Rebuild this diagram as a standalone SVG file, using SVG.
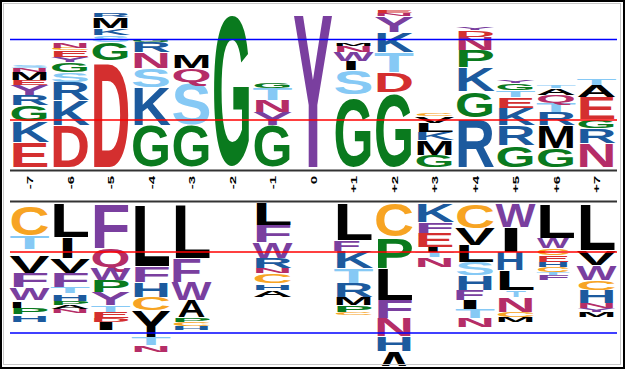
<svg xmlns="http://www.w3.org/2000/svg" width="627" height="371" viewBox="0 0 627 371">
<style>
.l{font-family:"Liberation Sans",Arial,sans-serif;font-weight:700;font-size:100px}
.r{fill:#d42f2f}.b{fill:#1c5a9e}.g{fill:#0a7a1e}.s{fill:#86c9f5}.p{fill:#7a3f9f}.m{fill:#b52d67}.k{fill:#000}.o{fill:#f7a423}
.ax{font-family:"Liberation Sans",Arial,sans-serif;font-size:15px;font-weight:700;fill:#000}
</style>
<defs><clipPath id="cl"><rect x="0" y="0" width="627" height="366"/></clipPath></defs>
<rect width="627" height="371" fill="#fff"/>
<g id="upper">
<g id="u-7">
<text class="l r" transform="translate(9.5,167) scale(1,.349)" textLength="40" lengthAdjust="spacingAndGlyphs">E</text>
<text class="l b" transform="translate(9.5,142) scale(1,.293)" textLength="40" lengthAdjust="spacingAndGlyphs">K</text>
<text class="l g" transform="translate(9.5,120.74) scale(1,.216)" textLength="40" lengthAdjust="spacingAndGlyphs">G</text>
<text class="l b" transform="translate(9.5,105) scale(1,.140)" textLength="40" lengthAdjust="spacingAndGlyphs">R</text>
<text class="l p" transform="translate(9.5,95) scale(1,.140)" textLength="40" lengthAdjust="spacingAndGlyphs">Y</text>
<text class="l r" transform="translate(9.5,85) scale(1,.070)" textLength="40" lengthAdjust="spacingAndGlyphs">E</text>
<text class="l k" transform="translate(9.5,80) scale(1,.112)" textLength="40" lengthAdjust="spacingAndGlyphs">M</text>
<text class="l m" transform="translate(9.5,72) scale(1,.056)" textLength="40" lengthAdjust="spacingAndGlyphs">N</text>
<text class="l s" transform="translate(9.5,67.95) scale(1,.041)" textLength="40" lengthAdjust="spacingAndGlyphs">S</text>
</g>
<g id="u-6">
<text class="l r" transform="translate(50,167) scale(1,.587)" textLength="40" lengthAdjust="spacingAndGlyphs">D</text>
<text class="l b" transform="translate(50,125) scale(1,.349)" textLength="40" lengthAdjust="spacingAndGlyphs">K</text>
<text class="l b" transform="translate(50,100) scale(1,.251)" textLength="40" lengthAdjust="spacingAndGlyphs">R</text>
<text class="l s" transform="translate(50,81.84) scale(1,.135)" textLength="40" lengthAdjust="spacingAndGlyphs">S</text>
<text class="l g" transform="translate(50,71.84) scale(1,.135)" textLength="40" lengthAdjust="spacingAndGlyphs">G</text>
<text class="l p" transform="translate(50,62) scale(1,.070)" textLength="40" lengthAdjust="spacingAndGlyphs">Y</text>
<text class="l r" transform="translate(50,57) scale(1,.098)" textLength="40" lengthAdjust="spacingAndGlyphs">E</text>
<text class="l o" transform="translate(50,49.97) scale(1,.027)" textLength="40" lengthAdjust="spacingAndGlyphs">C</text>
<text class="l m" transform="translate(50,48) scale(1,.070)" textLength="40" lengthAdjust="spacingAndGlyphs">N</text>
</g>
<g id="u-5">
<text class="l r" transform="translate(90.5,167) scale(1,1.494)" textLength="40" lengthAdjust="spacingAndGlyphs">D</text>
<text class="l g" transform="translate(90.5,59.71) scale(1,.243)" textLength="40" lengthAdjust="spacingAndGlyphs">G</text>
<text class="l s" transform="translate(90.5,41.89) scale(1,.095)" textLength="40" lengthAdjust="spacingAndGlyphs">S</text>
<text class="l b" transform="translate(90.5,35) scale(1,.098)" textLength="40" lengthAdjust="spacingAndGlyphs">K</text>
<text class="l k" transform="translate(90.5,28) scale(1,.154)" textLength="40" lengthAdjust="spacingAndGlyphs">M</text>
<text class="l b" transform="translate(90.5,17) scale(1,.056)" textLength="40" lengthAdjust="spacingAndGlyphs">R</text>
</g>
<g id="u-4">
<text class="l g" transform="translate(131,166.32) scale(1,.568)" textLength="40" lengthAdjust="spacingAndGlyphs">G</text>
<text class="l b" transform="translate(131,125) scale(1,.531)" textLength="40" lengthAdjust="spacingAndGlyphs">K</text>
<text class="l s" transform="translate(131,86.69) scale(1,.257)" textLength="40" lengthAdjust="spacingAndGlyphs">S</text>
<text class="l m" transform="translate(131,68) scale(1,.223)" textLength="40" lengthAdjust="spacingAndGlyphs">N</text>
<text class="l b" transform="translate(131,52) scale(1,.140)" textLength="40" lengthAdjust="spacingAndGlyphs">R</text>
<text class="l g" transform="translate(131,41.97) scale(1,.027)" textLength="40" lengthAdjust="spacingAndGlyphs">G</text>
</g>
<g id="u-3">
<text class="l g" transform="translate(171.5,166.32) scale(1,.568)" textLength="40" lengthAdjust="spacingAndGlyphs">G</text>
<text class="l s" transform="translate(171.5,124.3) scale(1,.581)" textLength="40" lengthAdjust="spacingAndGlyphs">S</text>
<text class="l m" transform="translate(171.5,81.77) scale(1,.189)" textLength="40" lengthAdjust="spacingAndGlyphs">Q</text>
<text class="l k" transform="translate(171.5,68) scale(1,.182)" textLength="40" lengthAdjust="spacingAndGlyphs">M</text>
</g>
<g id="u-2">
<text class="l g" transform="translate(212,164.45) scale(1,2.122)" textLength="40" lengthAdjust="spacingAndGlyphs">G</text>
</g>
<g id="u-1">
<text class="l g" transform="translate(252.5,166.32) scale(1,.568)" textLength="40" lengthAdjust="spacingAndGlyphs">G</text>
<text class="l p" transform="translate(252.5,125) scale(1,.182)" textLength="40" lengthAdjust="spacingAndGlyphs">Y</text>
<text class="l m" transform="translate(252.5,112) scale(1,.168)" textLength="40" lengthAdjust="spacingAndGlyphs">N</text>
<text class="l s" transform="translate(252.5,100) scale(1,.168)" textLength="40" lengthAdjust="spacingAndGlyphs">T</text>
<text class="l g" transform="translate(252.5,87.92) scale(1,.068)" textLength="40" lengthAdjust="spacingAndGlyphs">G</text>
</g>
<g id="u0">
<text class="l p" transform="translate(293,167) scale(1,2.193)" textLength="40" lengthAdjust="spacingAndGlyphs">Y</text>
</g>
<g id="u+1">
<text class="l g" transform="translate(333.5,165.83) scale(1,.973)" textLength="40" lengthAdjust="spacingAndGlyphs">G</text>
<text class="l s" transform="translate(333.5,93.61) scale(1,.324)" textLength="40" lengthAdjust="spacingAndGlyphs">S</text>
<text class="l k" transform="translate(342,70) scale(1,.126)" textLength="18" lengthAdjust="spacingAndGlyphs">I</text>
<text class="l p" transform="translate(333.5,61) scale(1,.126)" textLength="40" lengthAdjust="spacingAndGlyphs">W</text>
<text class="l m" transform="translate(333.5,52) scale(1,.084)" textLength="40" lengthAdjust="spacingAndGlyphs">N</text>
<text class="l k" transform="translate(333.5,46) scale(1,.028)" textLength="40" lengthAdjust="spacingAndGlyphs">M</text>
</g>
<g id="u+2">
<text class="l g" transform="translate(374,165.78) scale(1,1.014)" textLength="40" lengthAdjust="spacingAndGlyphs">G</text>
<text class="l r" transform="translate(374,92) scale(1,.279)" textLength="40" lengthAdjust="spacingAndGlyphs">D</text>
<text class="l s" transform="translate(374,72) scale(1,.279)" textLength="40" lengthAdjust="spacingAndGlyphs">T</text>
<text class="l b" transform="translate(374,52) scale(1,.279)" textLength="40" lengthAdjust="spacingAndGlyphs">K</text>
<text class="l p" transform="translate(374,32) scale(1,.223)" textLength="40" lengthAdjust="spacingAndGlyphs">Y</text>
<text class="l m" transform="translate(374,16) scale(1,.042)" textLength="40" lengthAdjust="spacingAndGlyphs">N</text>
<text class="l r" transform="translate(374,13) scale(1,.042)" textLength="40" lengthAdjust="spacingAndGlyphs">E</text>
</g>
<g id="u+3">
<text class="l g" transform="translate(414.5,166.81) scale(1,.162)" textLength="40" lengthAdjust="spacingAndGlyphs">G</text>
<text class="l k" transform="translate(414.5,155) scale(1,.209)" textLength="40" lengthAdjust="spacingAndGlyphs">M</text>
<text class="l b" transform="translate(414.5,140) scale(1,.112)" textLength="40" lengthAdjust="spacingAndGlyphs">K</text>
<text class="l k" transform="translate(414.5,132) scale(1,.126)" textLength="40" lengthAdjust="spacingAndGlyphs">L</text>
<text class="l k" transform="translate(414.5,123) scale(1,.098)" textLength="40" lengthAdjust="spacingAndGlyphs">V</text>
<text class="l o" transform="translate(414.5,115.95) scale(1,.041)" textLength="40" lengthAdjust="spacingAndGlyphs">C</text>
</g>
<g id="u+4">
<text class="l b" transform="translate(455,167) scale(1,.684)" textLength="40" lengthAdjust="spacingAndGlyphs">R</text>
<text class="l g" transform="translate(455,116.58) scale(1,.351)" textLength="40" lengthAdjust="spacingAndGlyphs">G</text>
<text class="l b" transform="translate(455,91) scale(1,.335)" textLength="40" lengthAdjust="spacingAndGlyphs">K</text>
<text class="l g" transform="translate(455,67) scale(1,.237)" textLength="40" lengthAdjust="spacingAndGlyphs">P</text>
<text class="l m" transform="translate(455,50) scale(1,.182)" textLength="40" lengthAdjust="spacingAndGlyphs">N</text>
<text class="l r" transform="translate(455,37) scale(1,.098)" textLength="40" lengthAdjust="spacingAndGlyphs">D</text>
<text class="l p" transform="translate(455,30) scale(1,.028)" textLength="40" lengthAdjust="spacingAndGlyphs">Y</text>
</g>
<g id="u+5">
<text class="l g" transform="translate(495.5,166.64) scale(1,.297)" textLength="40" lengthAdjust="spacingAndGlyphs">G</text>
<text class="l b" transform="translate(495.5,145) scale(1,.279)" textLength="40" lengthAdjust="spacingAndGlyphs">R</text>
<text class="l b" transform="translate(495.5,125) scale(1,.237)" textLength="40" lengthAdjust="spacingAndGlyphs">K</text>
<text class="l r" transform="translate(495.5,108) scale(1,.154)" textLength="40" lengthAdjust="spacingAndGlyphs">E</text>
<text class="l s" transform="translate(495.5,97) scale(1,.098)" textLength="40" lengthAdjust="spacingAndGlyphs">T</text>
<text class="l g" transform="translate(495.5,89.89) scale(1,.095)" textLength="40" lengthAdjust="spacingAndGlyphs">G</text>
<text class="l p" transform="translate(495.5,83) scale(1,.042)" textLength="40" lengthAdjust="spacingAndGlyphs">Y</text>
</g>
<g id="u+6">
<text class="l g" transform="translate(536,166.69) scale(1,.257)" textLength="40" lengthAdjust="spacingAndGlyphs">G</text>
<text class="l k" transform="translate(536,148) scale(1,.321)" textLength="40" lengthAdjust="spacingAndGlyphs">M</text>
<text class="l b" transform="translate(536,125) scale(1,.182)" textLength="40" lengthAdjust="spacingAndGlyphs">R</text>
<text class="l s" transform="translate(536,112) scale(1,.126)" textLength="40" lengthAdjust="spacingAndGlyphs">T</text>
<text class="l m" transform="translate(536,102.87) scale(1,.108)" textLength="40" lengthAdjust="spacingAndGlyphs">Q</text>
<text class="l k" transform="translate(536,95) scale(1,.098)" textLength="40" lengthAdjust="spacingAndGlyphs">A</text>
<text class="l s" transform="translate(536,88) scale(1,.028)" textLength="40" lengthAdjust="spacingAndGlyphs">T</text>
</g>
<g id="u+7">
<text class="l m" transform="translate(576.5,167) scale(1,.335)" textLength="40" lengthAdjust="spacingAndGlyphs">N</text>
<text class="l b" transform="translate(576.5,143) scale(1,.209)" textLength="40" lengthAdjust="spacingAndGlyphs">R</text>
<text class="l g" transform="translate(576.5,127.87) scale(1,.108)" textLength="40" lengthAdjust="spacingAndGlyphs">G</text>
<text class="l r" transform="translate(576.5,119) scale(1,.307)" textLength="40" lengthAdjust="spacingAndGlyphs">E</text>
<text class="l k" transform="translate(576.5,97) scale(1,.168)" textLength="40" lengthAdjust="spacingAndGlyphs">A</text>
<text class="l s" transform="translate(576.5,85) scale(1,.098)" textLength="40" lengthAdjust="spacingAndGlyphs">T</text>
</g>
</g>
<g id="lower" clip-path="url(#cl)">
<g id="d-7">
<text class="l o" transform="translate(9.5,234.51) scale(1,.405)" textLength="40" lengthAdjust="spacingAndGlyphs">C</text>
<text class="l s" transform="translate(9.5,249) scale(1,.182)" textLength="40" lengthAdjust="spacingAndGlyphs">T</text>
<text class="l k" transform="translate(9.5,273) scale(1,.237)" textLength="40" lengthAdjust="spacingAndGlyphs">V</text>
<text class="l p" transform="translate(9.5,287) scale(1,.196)" textLength="40" lengthAdjust="spacingAndGlyphs">F</text>
<text class="l p" transform="translate(9.5,300) scale(1,.168)" textLength="40" lengthAdjust="spacingAndGlyphs">W</text>
<text class="l k" transform="translate(9,308) scale(1,.098)" textLength="16" lengthAdjust="spacingAndGlyphs">I</text>
<text class="l g" transform="translate(9.5,314) scale(1,.084)" textLength="40" lengthAdjust="spacingAndGlyphs">P</text>
<text class="l b" transform="translate(9.5,322) scale(1,.084)" textLength="40" lengthAdjust="spacingAndGlyphs">H</text>
</g>
<g id="d-6">
<text class="l k" transform="translate(50,237) scale(1,.475)" textLength="40" lengthAdjust="spacingAndGlyphs">L</text>
<text class="l k" transform="translate(58.5,258) scale(1,.293)" textLength="18" lengthAdjust="spacingAndGlyphs">I</text>
<text class="l k" transform="translate(50,273) scale(1,.209)" textLength="40" lengthAdjust="spacingAndGlyphs">V</text>
<text class="l p" transform="translate(50,287) scale(1,.196)" textLength="40" lengthAdjust="spacingAndGlyphs">F</text>
<text class="l s" transform="translate(50,293) scale(1,.084)" textLength="40" lengthAdjust="spacingAndGlyphs">T</text>
<text class="l b" transform="translate(50,301) scale(1,.084)" textLength="40" lengthAdjust="spacingAndGlyphs">H</text>
<text class="l g" transform="translate(50,305) scale(1,.056)" textLength="40" lengthAdjust="spacingAndGlyphs">P</text>
<text class="l k" transform="translate(50,309) scale(1,.056)" textLength="40" lengthAdjust="spacingAndGlyphs">A</text>
<text class="l m" transform="translate(50,313) scale(1,.056)" textLength="40" lengthAdjust="spacingAndGlyphs">N</text>
</g>
<g id="d-5">
<text class="l p" transform="translate(90.5,248) scale(1,.628)" textLength="40" lengthAdjust="spacingAndGlyphs">F</text>
<text class="l m" transform="translate(90.5,266.69) scale(1,.257)" textLength="40" lengthAdjust="spacingAndGlyphs">Q</text>
<text class="l p" transform="translate(90.5,280) scale(1,.168)" textLength="40" lengthAdjust="spacingAndGlyphs">W</text>
<text class="l g" transform="translate(90.5,292) scale(1,.168)" textLength="40" lengthAdjust="spacingAndGlyphs">P</text>
<text class="l p" transform="translate(90.5,305) scale(1,.182)" textLength="40" lengthAdjust="spacingAndGlyphs">Y</text>
<text class="l s" transform="translate(90.5,312) scale(1,.098)" textLength="40" lengthAdjust="spacingAndGlyphs">T</text>
<text class="l r" transform="translate(90.5,318) scale(1,.084)" textLength="40" lengthAdjust="spacingAndGlyphs">E</text>
<text class="l r" transform="translate(90.5,322) scale(1,.056)" textLength="40" lengthAdjust="spacingAndGlyphs">D</text>
<text class="l k" transform="translate(94,330) scale(1,.112)" textLength="24" lengthAdjust="spacingAndGlyphs">I</text>
</g>
<g id="d-4">
<text class="l k" transform="translate(131,266) scale(1,.880)" textLength="40" lengthAdjust="spacingAndGlyphs">L</text>
<text class="l p" transform="translate(131,282) scale(1,.223)" textLength="40" lengthAdjust="spacingAndGlyphs">F</text>
<text class="l b" transform="translate(131,297) scale(1,.209)" textLength="40" lengthAdjust="spacingAndGlyphs">H</text>
<text class="l o" transform="translate(131,309.79) scale(1,.176)" textLength="40" lengthAdjust="spacingAndGlyphs">C</text>
<text class="l k" transform="translate(131,337) scale(1,.377)" textLength="40" lengthAdjust="spacingAndGlyphs">Y</text>
<text class="l s" transform="translate(131,345) scale(1,.112)" textLength="40" lengthAdjust="spacingAndGlyphs">T</text>
<text class="l m" transform="translate(131,352) scale(1,.098)" textLength="40" lengthAdjust="spacingAndGlyphs">N</text>
</g>
<g id="d-3">
<text class="l k" transform="translate(171.5,258) scale(1,.768)" textLength="40" lengthAdjust="spacingAndGlyphs">L</text>
<text class="l p" transform="translate(170,282) scale(1,.335)" textLength="32" lengthAdjust="spacingAndGlyphs">F</text>
<text class="l p" transform="translate(171.5,300) scale(1,.251)" textLength="40" lengthAdjust="spacingAndGlyphs">W</text>
<text class="l k" transform="translate(177.5,317) scale(1,.237)" textLength="28" lengthAdjust="spacingAndGlyphs">A</text>
<text class="l g" transform="translate(171.5,322) scale(1,.056)" textLength="40" lengthAdjust="spacingAndGlyphs">P</text>
<text class="l o" transform="translate(171.5,325.95) scale(1,.054)" textLength="40" lengthAdjust="spacingAndGlyphs">C</text>
<text class="l b" transform="translate(171.5,330) scale(1,.056)" textLength="40" lengthAdjust="spacingAndGlyphs">H</text>
</g>
<g id="d-1">
<text class="l k" transform="translate(252.5,225) scale(1,.307)" textLength="40" lengthAdjust="spacingAndGlyphs">L</text>
<text class="l p" transform="translate(252.5,242) scale(1,.237)" textLength="40" lengthAdjust="spacingAndGlyphs">F</text>
<text class="l p" transform="translate(252.5,258) scale(1,.223)" textLength="40" lengthAdjust="spacingAndGlyphs">W</text>
<text class="l b" transform="translate(252.5,268) scale(1,.140)" textLength="40" lengthAdjust="spacingAndGlyphs">R</text>
<text class="l m" transform="translate(252.5,273) scale(1,.070)" textLength="40" lengthAdjust="spacingAndGlyphs">N</text>
<text class="l o" transform="translate(252.5,282.89) scale(1,.122)" textLength="40" lengthAdjust="spacingAndGlyphs">C</text>
<text class="l b" transform="translate(252.5,290) scale(1,.070)" textLength="40" lengthAdjust="spacingAndGlyphs">H</text>
<text class="l k" transform="translate(252.5,297) scale(1,.098)" textLength="40" lengthAdjust="spacingAndGlyphs">A</text>
</g>
<g id="d+1">
<text class="l k" transform="translate(333.5,240) scale(1,.517)" textLength="40" lengthAdjust="spacingAndGlyphs">L</text>
<text class="l p" transform="translate(331,251) scale(1,.154)" textLength="30" lengthAdjust="spacingAndGlyphs">F</text>
<text class="l b" transform="translate(333.5,268) scale(1,.237)" textLength="40" lengthAdjust="spacingAndGlyphs">K</text>
<text class="l s" transform="translate(333.5,283) scale(1,.209)" textLength="40" lengthAdjust="spacingAndGlyphs">T</text>
<text class="l b" transform="translate(333.5,297) scale(1,.196)" textLength="40" lengthAdjust="spacingAndGlyphs">R</text>
<text class="l k" transform="translate(333.5,305) scale(1,.112)" textLength="40" lengthAdjust="spacingAndGlyphs">M</text>
<text class="l g" transform="translate(333.5,312) scale(1,.098)" textLength="40" lengthAdjust="spacingAndGlyphs">P</text>
<text class="l o" transform="translate(333.5,314.95) scale(1,.041)" textLength="40" lengthAdjust="spacingAndGlyphs">C</text>
</g>
<g id="d+2">
<text class="l o" transform="translate(374,236.45) scale(1,.459)" textLength="40" lengthAdjust="spacingAndGlyphs">C</text>
<text class="l g" transform="translate(374,268) scale(1,.433)" textLength="40" lengthAdjust="spacingAndGlyphs">P</text>
<text class="l k" transform="translate(374,300) scale(1,.447)" textLength="40" lengthAdjust="spacingAndGlyphs">L</text>
<text class="l p" transform="translate(374,318) scale(1,.251)" textLength="40" lengthAdjust="spacingAndGlyphs">F</text>
<text class="l m" transform="translate(374,336) scale(1,.251)" textLength="40" lengthAdjust="spacingAndGlyphs">N</text>
<text class="l b" transform="translate(374,351) scale(1,.209)" textLength="40" lengthAdjust="spacingAndGlyphs">H</text>
<text class="l k" transform="translate(374,378) scale(1,.363)" textLength="40" lengthAdjust="spacingAndGlyphs">A</text>
</g>
<g id="d+3">
<text class="l b" transform="translate(414.5,222) scale(1,.265)" textLength="40" lengthAdjust="spacingAndGlyphs">K</text>
<text class="l p" transform="translate(414.5,233) scale(1,.154)" textLength="40" lengthAdjust="spacingAndGlyphs">F</text>
<text class="l r" transform="translate(414.5,247) scale(1,.196)" textLength="40" lengthAdjust="spacingAndGlyphs">E</text>
<text class="l k" transform="translate(424,252) scale(1,.070)" textLength="18" lengthAdjust="spacingAndGlyphs">I</text>
<text class="l s" transform="translate(414.5,257) scale(1,.070)" textLength="40" lengthAdjust="spacingAndGlyphs">T</text>
<text class="l m" transform="translate(414.5,267) scale(1,.126)" textLength="40" lengthAdjust="spacingAndGlyphs">N</text>
</g>
<g id="d+4">
<text class="l o" transform="translate(455,227.59) scale(1,.338)" textLength="40" lengthAdjust="spacingAndGlyphs">C</text>
<text class="l k" transform="translate(455,245) scale(1,.237)" textLength="40" lengthAdjust="spacingAndGlyphs">V</text>
<text class="l k" transform="translate(455,262) scale(1,.237)" textLength="40" lengthAdjust="spacingAndGlyphs">L</text>
<text class="l s" transform="translate(455,274.79) scale(1,.176)" textLength="40" lengthAdjust="spacingAndGlyphs">S</text>
<text class="l b" transform="translate(455,290) scale(1,.209)" textLength="40" lengthAdjust="spacingAndGlyphs">H</text>
<text class="l p" transform="translate(453,300) scale(1,.140)" textLength="32" lengthAdjust="spacingAndGlyphs">F</text>
<text class="l k" transform="translate(458,309) scale(1,.126)" textLength="24" lengthAdjust="spacingAndGlyphs">I</text>
<text class="l s" transform="translate(455,318) scale(1,.126)" textLength="40" lengthAdjust="spacingAndGlyphs">T</text>
<text class="l m" transform="translate(455,327) scale(1,.126)" textLength="40" lengthAdjust="spacingAndGlyphs">N</text>
</g>
<g id="d+5">
<text class="l p" transform="translate(495.5,227) scale(1,.335)" textLength="40" lengthAdjust="spacingAndGlyphs">W</text>
<text class="l k" transform="translate(499,252) scale(1,.349)" textLength="24" lengthAdjust="spacingAndGlyphs">I</text>
<text class="l b" transform="translate(495,270) scale(1,.251)" textLength="30" lengthAdjust="spacingAndGlyphs">H</text>
<text class="l k" transform="translate(495.5,290) scale(1,.279)" textLength="40" lengthAdjust="spacingAndGlyphs">L</text>
<text class="l s" transform="translate(506,297) scale(1,.098)" textLength="20" lengthAdjust="spacingAndGlyphs">T</text>
<text class="l m" transform="translate(495.5,312) scale(1,.209)" textLength="40" lengthAdjust="spacingAndGlyphs">N</text>
<text class="l o" transform="translate(495.5,316.93) scale(1,.068)" textLength="40" lengthAdjust="spacingAndGlyphs">C</text>
<text class="l k" transform="translate(495.5,322) scale(1,.070)" textLength="40" lengthAdjust="spacingAndGlyphs">M</text>
</g>
<g id="d+6">
<text class="l k" transform="translate(536,238) scale(1,.489)" textLength="40" lengthAdjust="spacingAndGlyphs">L</text>
<text class="l p" transform="translate(537,248) scale(1,.140)" textLength="32" lengthAdjust="spacingAndGlyphs">W</text>
<text class="l o" transform="translate(536,254.9) scale(1,.095)" textLength="34" lengthAdjust="spacingAndGlyphs">C</text>
<text class="l r" transform="translate(536,262) scale(1,.098)" textLength="34" lengthAdjust="spacingAndGlyphs">E</text>
<text class="l b" transform="translate(536,267) scale(1,.070)" textLength="34" lengthAdjust="spacingAndGlyphs">H</text>
<text class="l o" transform="translate(536,271.93) scale(1,.068)" textLength="34" lengthAdjust="spacingAndGlyphs">C</text>
<text class="l s" transform="translate(536,275) scale(1,.042)" textLength="34" lengthAdjust="spacingAndGlyphs">T</text>
<text class="l p" transform="translate(536,280) scale(1,.070)" textLength="34" lengthAdjust="spacingAndGlyphs">F</text>
</g>
<g id="d+7">
<text class="l k" transform="translate(576.5,250) scale(1,.656)" textLength="40" lengthAdjust="spacingAndGlyphs">L</text>
<text class="l k" transform="translate(576.5,265) scale(1,.209)" textLength="40" lengthAdjust="spacingAndGlyphs">V</text>
<text class="l p" transform="translate(576.5,280) scale(1,.209)" textLength="40" lengthAdjust="spacingAndGlyphs">W</text>
<text class="l o" transform="translate(576.5,289.84) scale(1,.135)" textLength="40" lengthAdjust="spacingAndGlyphs">C</text>
<text class="l b" transform="translate(576.5,303) scale(1,.182)" textLength="40" lengthAdjust="spacingAndGlyphs">H</text>
<text class="l m" transform="translate(576.5,308) scale(1,.070)" textLength="40" lengthAdjust="spacingAndGlyphs">N</text>
<text class="l p" transform="translate(576.5,312) scale(1,.056)" textLength="40" lengthAdjust="spacingAndGlyphs">Y</text>
<text class="l k" transform="translate(576.5,317) scale(1,.070)" textLength="40" lengthAdjust="spacingAndGlyphs">M</text>
</g>
</g>
<g id="lines" fill="none">
<line x1="10" y1="39.5" x2="617" y2="39.5" stroke="#0000ff" stroke-width="1.5"/>
<line x1="10" y1="120" x2="617" y2="120" stroke="#ff0000" stroke-width="1.5"/>
<line x1="10" y1="170.5" x2="617" y2="170.5" stroke="#333" stroke-width="2"/>
<line x1="10" y1="201.5" x2="617" y2="201.5" stroke="#333" stroke-width="2"/>
<line x1="10" y1="252" x2="617" y2="252" stroke="#ff0000" stroke-width="1.5"/>
<line x1="10" y1="333" x2="617" y2="333" stroke="#0000ff" stroke-width="1.5"/>
</g>
<g id="axis" class="ax" text-anchor="end">
<text transform="translate(33,176) rotate(-90) scale(1,.6)">-7</text>
<text transform="translate(73.5,176) rotate(-90) scale(1,.6)">-6</text>
<text transform="translate(114,176) rotate(-90) scale(1,.6)">-5</text>
<text transform="translate(154.5,176) rotate(-90) scale(1,.6)">-4</text>
<text transform="translate(195,176) rotate(-90) scale(1,.6)">-3</text>
<text transform="translate(235.5,176) rotate(-90) scale(1,.6)">-2</text>
<text transform="translate(276,176) rotate(-90) scale(1,.6)">-1</text>
<text transform="translate(316.5,176) rotate(-90) scale(1,.6)">0</text>
<text transform="translate(357,176) rotate(-90) scale(1,.6)">+1</text>
<text transform="translate(397.5,176) rotate(-90) scale(1,.6)">+2</text>
<text transform="translate(438,176) rotate(-90) scale(1,.6)">+3</text>
<text transform="translate(478.5,176) rotate(-90) scale(1,.6)">+4</text>
<text transform="translate(519,176) rotate(-90) scale(1,.6)">+5</text>
<text transform="translate(559.5,176) rotate(-90) scale(1,.6)">+6</text>
<text transform="translate(600,176) rotate(-90) scale(1,.6)">+7</text>
</g>
<g id="frame" fill="none">
<rect x="3.5" y="3.5" width="617" height="361" stroke="#c8c8c8" stroke-width="1"/>
<rect x="1" y="1" width="623" height="367" stroke="#000" stroke-width="2"/>
</g>
</svg>
